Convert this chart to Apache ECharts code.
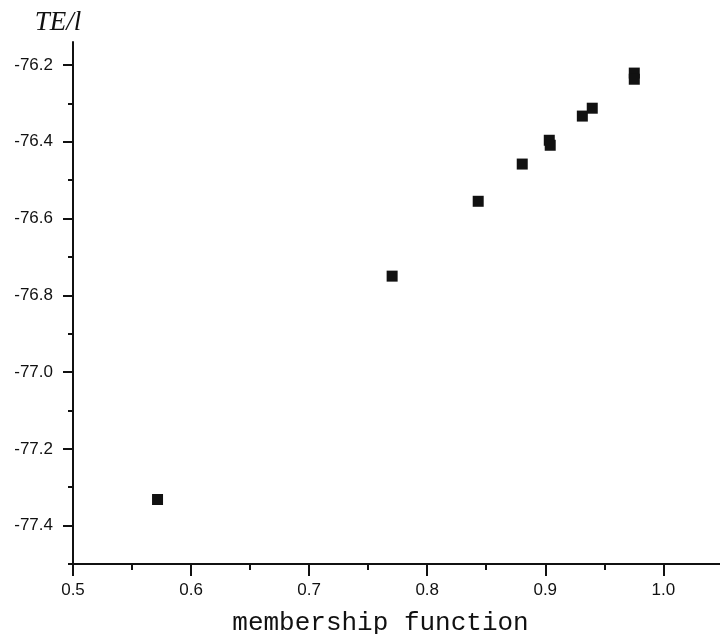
<!DOCTYPE html>
<html>
<head>
<meta charset="utf-8">
<script src="https://cdn.jsdelivr.net/npm/echarts@6/dist/echarts.min.js"></script>
<style>html,body{margin:0;padding:0;background:#fff;}#c{width:720px;height:634px;}</style>
</head>
<body>
<div id="c"></div>
<script>
var membership = [0.5716, 0.7703, 0.8432, 0.8805, 0.9034, 0.9042, 0.9314, 0.9398, 0.9754, 0.9754];
var energy = [-77.332, -76.750, -76.555, -76.458, -76.396, -76.409, -76.333, -76.3125, -76.221, -76.237];
var xMajorTicks = [0.5, 0.6, 0.7, 0.8, 0.9, 1.0];
var xMinorTicks = [0.55, 0.65, 0.75, 0.85, 0.95];
var yMajorTicks = [-77.4, -77.2, -77.0, -76.8, -76.6, -76.4, -76.2];
var yMinorTicks = [-77.5, -77.3, -77.1, -76.9, -76.7, -76.5, -76.3];

var points = membership.map(function (v, i) { return [v, energy[i]]; });
var xMin = 0.5, xMax = 1.048, yMin = -77.5, yMax = -76.14;
var lineStyle = { color: '#111', width: 2 };
var labelFont = { color: '#111', fontFamily: 'Liberation Sans, Arial, sans-serif', fontSize: 17 };

var chart = echarts.init(document.getElementById('c'), null, { renderer: 'canvas' });
chart.setOption({
  backgroundColor: '#fff',
  animation: false,
  grid: { left: 73, right: 0, top: 42, bottom: 70, containLabel: false, outerBoundsMode: 'none' },
  xAxis: [
    {
      type: 'value', min: xMin, max: xMax,
      name: 'membership function', nameLocation: 'middle', nameGap: 46,
      nameTextStyle: { fontFamily: 'Liberation Mono, Courier New, monospace', fontSize: 26, color: '#111', padding: [0, 32, 0, 0] },
      axisLine: { show: true, onZero: false, lineStyle: lineStyle },
      axisTick: { show: true, inside: false, length: 12, lineStyle: lineStyle, customValues: xMajorTicks },
      axisLabel: Object.assign({ margin: 18, customValues: xMajorTicks, formatter: function (v) { return v.toFixed(1); } }, labelFont),
      splitLine: { show: false }
    },
    {
      type: 'value', min: xMin, max: xMax, position: 'bottom',
      axisLine: { show: false },
      axisTick: { show: true, inside: false, length: 6, lineStyle: lineStyle, customValues: xMinorTicks },
      axisLabel: { show: false },
      splitLine: { show: false }
    }
  ],
  yAxis: [
    {
      type: 'value', min: yMin, max: yMax,
      name: 'TE/l', nameLocation: 'end', nameGap: 6,
      nameTextStyle: { fontFamily: 'Liberation Serif, Times New Roman, serif', fontStyle: 'italic', fontSize: 27, color: '#111', padding: [0, 30, 0, 0], align: 'center' },
      axisLine: { show: true, onZero: false, lineStyle: lineStyle },
      axisTick: { show: true, inside: false, length: 10, lineStyle: lineStyle, customValues: yMajorTicks },
      axisLabel: Object.assign({ margin: 20, customValues: yMajorTicks, formatter: function (v) { return v.toFixed(1); } }, labelFont),
      splitLine: { show: false }
    },
    {
      type: 'value', min: yMin, max: yMax, position: 'left',
      axisLine: { show: false },
      axisTick: { show: true, inside: false, length: 5, lineStyle: lineStyle, customValues: yMinorTicks },
      axisLabel: { show: false },
      splitLine: { show: false }
    }
  ],
  series: [{
    type: 'scatter',
    xAxisIndex: 0, yAxisIndex: 0,
    data: points,
    symbol: 'rect',
    symbolSize: 11,
    itemStyle: { color: '#111', opacity: 1 }
  }]
});
</script>
</body>
</html>
